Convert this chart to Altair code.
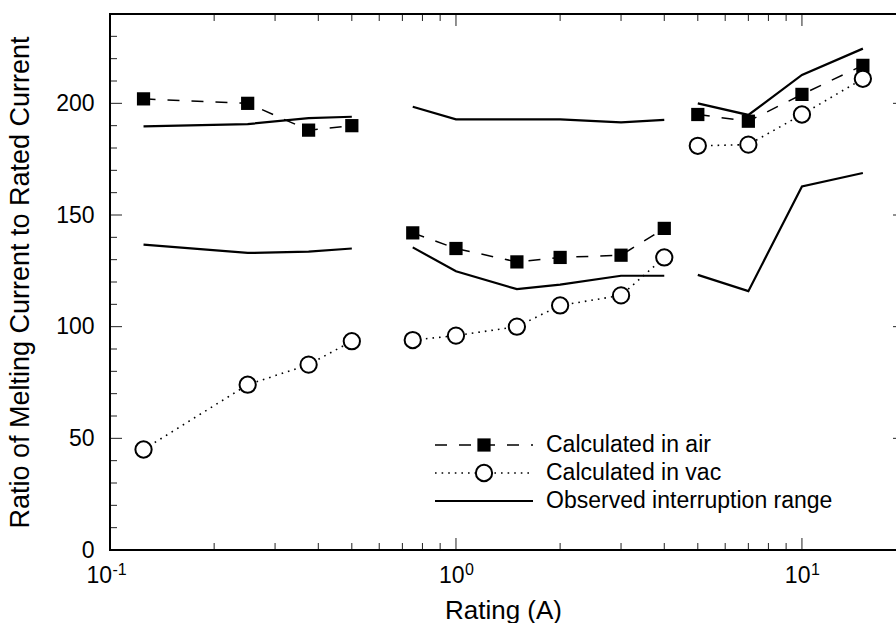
import altair as alt
import pandas as pd

FONT = "Liberation Sans"

# ---------------- data ----------------
ratings_1 = [0.125, 0.25, 0.375, 0.5]
ratings_2 = [0.75, 1.0, 1.5, 2.0, 3.0, 4.0]
ratings_3 = [5.0, 7.0, 10.0, 15.0]

air_1 = [202, 200, 188, 190]
air_2 = [142, 135, 129, 131, 132, 144]
air_3 = [195, 192, 204, 217]

vac_1 = [45, 74, 83, 93.5]
vac_2 = [94, 96, 100, 109.5, 114, 131]
vac_3 = [181, 181.5, 195, 211]

obs_upper_1 = [189.7, 190.7, 193.4, 194]
obs_lower_1 = [136.7, 133, 133.6, 135]
obs_upper_2 = [198.5, 192.8, 192.8, 192.8, 191.5, 192.6]
obs_lower_2 = [135.5, 124.8, 116.8, 118.8, 122.8, 122.8]
obs_upper_3 = [200, 194.8, 212.7, 224.5]
obs_lower_3 = [123.2, 115.9, 162.8, 168.8]

legend_labels = ["Calculated in air", "Calculated in vac", "Observed interruption range"]

x_major_ticks = [0.1, 1, 10]
x_minor_ticks = [0.2, 0.3, 0.4, 0.5, 0.6, 0.7, 0.8, 0.9,
                 2, 3, 4, 5, 6, 7, 8, 9]
y_major_ticks = [0, 50, 100, 150, 200]
y_minor_ticks = [10, 20, 30, 40, 60, 70, 80, 90, 110, 120, 130, 140,
                 160, 170, 180, 190, 210, 220, 230, 240]
x_tick_base = ["10", "10", "10"]
x_tick_exp = ["-1", "0", "1"]

# ---------------- tables ----------------
def seg_table(rs_list, vs_list, prefix):
    rows = []
    for k, (rs, vs) in enumerate(zip(rs_list, vs_list)):
        for r, v in zip(rs, vs):
            rows.append({"rating": r, "value": v, "seg": f"{prefix}{k}"})
    return pd.DataFrame(rows)

air_df = seg_table([ratings_1, ratings_2, ratings_3], [air_1, air_2, air_3], "a")
vac_df = seg_table([ratings_1, ratings_2, ratings_3], [vac_1, vac_2, vac_3], "v")
obs_df = seg_table(
    [ratings_1, ratings_1, ratings_2, ratings_2, ratings_3, ratings_3],
    [obs_upper_1, obs_lower_1, obs_upper_2, obs_lower_2, obs_upper_3, obs_lower_3],
    "o",
)

W, H = 786, 536

xs = alt.Scale(type="log", domain=[0.1, 18.7], nice=False)
ys = alt.Scale(domain=[0, 240], nice=False, zero=False)

x_axis = alt.Axis(values=x_major_ticks, labels=False, ticks=False, domain=False,
                  grid=False, title="Rating (A)", titleFont=FONT, titleFontSize=26,
                  titleFontWeight="normal", titleColor="black", titlePadding=47)
y_axis = alt.Axis(values=y_major_ticks, ticks=False, domain=False, grid=False,
                  labelFont=FONT, labelFontSize=23, labelColor="black",
                  labelPadding=16, labelFlush=False, labelOverlap=False,
                  title="Ratio of Melting Current to Rated Current", titleFont=FONT,
                  titleFontSize=27, titleFontWeight="normal", titleColor="black",
                  titlePadding=21)

X = alt.X("rating:Q", scale=xs, axis=x_axis)
Y = alt.Y("value:Q", scale=ys, axis=y_axis)

obs_lines = alt.Chart(obs_df).mark_line(color="black", strokeWidth=2.2).encode(
    x=X, y=Y, detail="seg:N")
air_lines = alt.Chart(air_df).mark_line(color="black", strokeWidth=1.5,
                                        strokeDash=[12, 12]).encode(x=X, y=Y, detail="seg:N")
air_pts = alt.Chart(air_df).mark_point(shape="square", filled=True, color="black",
                                       opacity=1, size=175).encode(x=X, y=Y)
vac_lines = alt.Chart(vac_df).mark_line(color="black", strokeWidth=1.6,
                                        strokeDash=[1.6, 5]).encode(x=X, y=Y, detail="seg:N")
vac_pts = alt.Chart(vac_df).mark_point(shape="circle", filled=False, fill="white",
                                       fillOpacity=1, stroke="black", strokeWidth=2,
                                       opacity=1, size=265).encode(x=X, y=Y)

# ---------------- frame (left, top, bottom; right edge runs off the page) ----------------
one = pd.DataFrame({"k": [0]})
frame = [
    alt.Chart(one).mark_rule(color="black", strokeWidth=2).encode(
        x=alt.value(0), y=alt.value(-1), y2=alt.value(H + 1)),
    alt.Chart(one).mark_rule(color="black", strokeWidth=2).encode(
        x=alt.value(-1), x2=alt.value(W), y=alt.value(0)),
    alt.Chart(one).mark_rule(color="black", strokeWidth=2).encode(
        x=alt.value(-1), x2=alt.value(W), y=alt.value(H)),
]

# ---------------- inward ticks ----------------
def tick_layer(vals, axis, side, length):
    df = pd.DataFrame({"t": vals})
    m = alt.Chart(df).mark_rule(color="#222", strokeWidth=1)
    if axis == "x":
        xenc = alt.X("t:Q", scale=xs, axis=x_axis)
        if side == "bottom":
            return m.encode(x=xenc, y=alt.value(H), y2=alt.value(H - length))
        return m.encode(x=xenc, y=alt.value(0), y2=alt.value(length))
    yenc = alt.Y("t:Q", scale=ys, axis=y_axis)
    if side == "left":
        return m.encode(y=yenc, x=alt.value(0), x2=alt.value(length))
    return m.encode(y=yenc, x=alt.value(W - length), x2=alt.value(W))

ticks = []
for side in ["bottom", "top"]:
    ticks.append(tick_layer(x_major_ticks, "x", side, 12))
    ticks.append(tick_layer(x_minor_ticks, "x", side, 7))
ticks.append(tick_layer(y_major_ticks, "y", "left", 12))
ticks.append(tick_layer(y_minor_ticks, "y", "left", 7))
ticks.append(tick_layer(y_major_ticks, "y", "right", 3))

# ---------------- x tick labels with superscript exponents ----------------
xlab_layers = []
for t, b, e in zip(x_major_ticks, x_tick_base, x_tick_exp):
    ldf = pd.DataFrame({"t": [t], "base": [b], "exp": [e]})
    shift = 2 if len(e) > 1 else 8.5
    xenc = alt.X("t:Q", scale=xs, axis=x_axis)
    xlab_layers.append(alt.Chart(ldf).mark_text(
        align="right", baseline="alphabetic", dx=shift, font=FONT, fontSize=23,
        color="black").encode(x=xenc, y=alt.value(H + 33), text="base:N"))
    xlab_layers.append(alt.Chart(ldf).mark_text(
        align="left", baseline="alphabetic", dx=shift + 0.5, font=FONT, fontSize=16,
        color="black").encode(x=xenc, y=alt.value(H + 25), text="exp:N"))

# ---------------- legend ----------------
LX0, LX1, LSYM, LTXT = 325, 423, 374, 436
LROWS = [431, 459, 487]
legend_layers = []
dashes = [[12, 12], [1.6, 5], None]
for i, lab in enumerate(legend_labels):
    ldf = pd.DataFrame({"label": [lab]})
    kw = dict(color="black", strokeWidth=2.2 if i == 2 else (1.5 if i == 0 else 1.6))
    if dashes[i] is not None:
        kw["strokeDash"] = dashes[i]
    legend_layers.append(alt.Chart(ldf).mark_rule(**kw).encode(
        x=alt.value(LX0), x2=alt.value(LX1), y=alt.value(LROWS[i])))
    if i == 0:
        legend_layers.append(alt.Chart(ldf).mark_point(
            shape="square", filled=True, color="black", opacity=1, size=175).encode(
            x=alt.value(LSYM), y=alt.value(LROWS[i])))
    if i == 1:
        legend_layers.append(alt.Chart(ldf).mark_point(
            shape="circle", filled=False, fill="white", fillOpacity=1, stroke="black",
            strokeWidth=2, opacity=1, size=265).encode(
            x=alt.value(LSYM), y=alt.value(LROWS[i])))
    legend_layers.append(alt.Chart(ldf).mark_text(
        align="left", baseline="middle", font=FONT, fontSize=23, color="black").encode(
        x=alt.value(LTXT), y=alt.value(LROWS[i]), text="label:N"))

chart = alt.layer(
    *ticks, *frame, obs_lines, air_lines, vac_lines, air_pts, vac_pts,
    *xlab_layers, *legend_layers
).properties(
    width=W, height=H,
    autosize="none",
    padding={"left": 110, "top": 14, "right": 0, "bottom": 73},
    background="white",
).configure_view(strokeWidth=0)

chart.save("out.html", embed_options={"renderer": "svg", "actions": False})
